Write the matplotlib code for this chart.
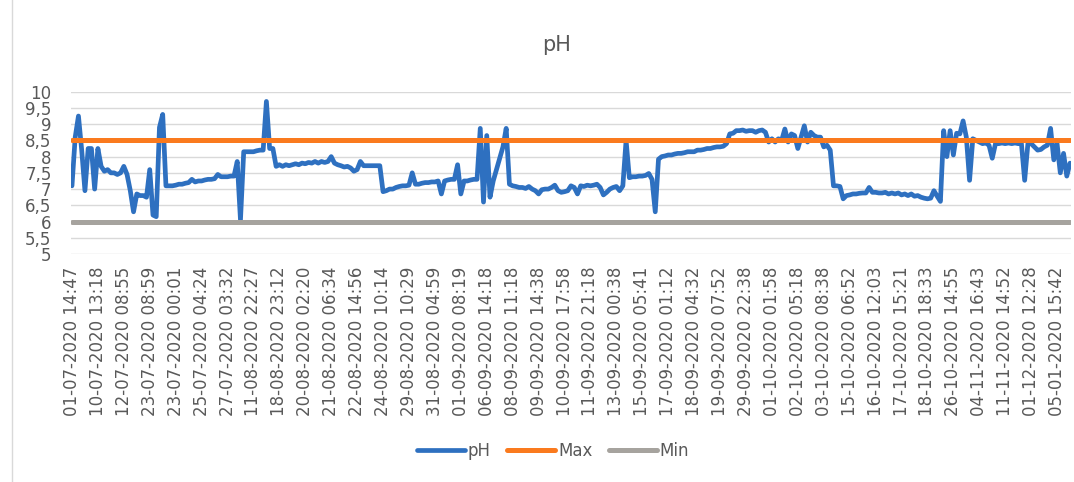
import matplotlib
matplotlib.use("Agg")
import matplotlib.pyplot as plt
import numpy as np

# pH readings, one every ~3 px along the category axis
ph = [
    7.1, 8.6, 9.25, 8.2, 6.95, 8.25, 8.25, 7.0, 8.25, 7.7,
    7.55, 7.6, 7.5, 7.5, 7.45, 7.5, 7.7, 7.45, 6.95, 6.3,
    6.85, 6.8, 6.8, 6.75, 7.6, 6.2, 6.15, 8.9, 9.3, 7.1,
    7.1, 7.1, 7.12, 7.15, 7.15, 7.18, 7.2, 7.3, 7.22, 7.25,
    7.25, 7.28, 7.3, 7.3, 7.32, 7.45, 7.38, 7.38, 7.38, 7.4,
    7.4, 7.85, 6.05, 8.15, 8.15, 8.15, 8.15, 8.18, 8.2, 8.2,
    9.7, 8.25, 8.25, 7.7, 7.75, 7.7, 7.75, 7.72, 7.75, 7.78,
    7.75, 7.8, 7.78, 7.82, 7.8, 7.85, 7.8, 7.85, 7.82, 7.85,
    8.0, 7.8, 7.75, 7.72, 7.68, 7.7, 7.65, 7.55, 7.6, 7.85,
    7.72, 7.72, 7.72, 7.72, 7.72, 7.72, 6.92, 6.95, 7.0, 7.0,
    7.05, 7.08, 7.1, 7.1, 7.12, 7.5, 7.15, 7.15, 7.18, 7.2,
    7.2, 7.22, 7.22, 7.25, 6.85, 7.25, 7.28, 7.3, 7.3, 7.75,
    6.85, 7.25, 7.25, 7.28, 7.3, 7.3, 8.87, 6.6, 8.65, 6.75,
    7.25, 7.6, 7.95, 8.3, 8.87, 7.15, 7.1, 7.08, 7.05, 7.05,
    7.02, 7.08, 7.0, 6.95, 6.85, 6.98, 7.0, 7.0, 7.05, 7.12,
    6.95, 6.9, 6.92, 6.95, 7.1, 7.05, 6.85, 7.1, 7.08, 7.12,
    7.1, 7.12, 7.15, 7.05, 6.82, 6.9, 7.0, 7.05, 7.08, 6.95,
    7.1, 8.5, 7.35, 7.38, 7.38, 7.4, 7.4, 7.42, 7.48, 7.3,
    6.3, 7.92, 8.0, 8.02, 8.05, 8.05, 8.08, 8.1, 8.1, 8.12,
    8.15, 8.15, 8.15, 8.2, 8.2, 8.22, 8.25, 8.25, 8.28, 8.3,
    8.3, 8.32, 8.4, 8.7, 8.72, 8.8, 8.8, 8.82, 8.78, 8.8,
    8.8, 8.75, 8.8, 8.82, 8.75, 8.45, 8.55, 8.45, 8.55, 8.5,
    8.85, 8.45, 8.7, 8.65, 8.25, 8.6, 8.95, 8.45, 8.75, 8.65,
    8.6, 8.6, 8.3, 8.35, 8.2, 7.1, 7.1, 7.08, 6.7, 6.8,
    6.82, 6.85, 6.85, 6.87, 6.88, 6.88, 7.05, 6.9, 6.9, 6.88,
    6.88, 6.9, 6.85, 6.88, 6.85, 6.88, 6.82, 6.85, 6.8, 6.85,
    6.78, 6.8, 6.75, 6.72, 6.7, 6.72, 6.95, 6.78, 6.62, 8.8,
    8.0, 8.8, 8.05, 8.72, 8.7, 9.1, 8.6, 7.27, 8.55, 8.5,
    8.45, 8.4, 8.42, 8.35, 7.95, 8.4, 8.4, 8.42, 8.4, 8.42,
    8.4, 8.42, 8.4, 8.4, 7.27, 8.4, 8.4, 8.3, 8.2, 8.22,
    8.3, 8.35, 8.87, 7.9, 8.4, 7.5, 8.1, 7.4, 7.8,
]
max_ph = 8.5
min_ph = 6.0

# one label every 8 readings
tick_labels = [
    "01-07-2020 14:47", "10-07-2020 13:18", "12-07-2020 08:55", "23-07-2020 08:59",
    "23-07-2020 00:01", "25-07-2020 04:24", "27-07-2020 03:32", "11-08-2020 22:27",
    "18-08-2020 23:12", "20-08-2020 02:20", "21-08-2020 06:34", "22-08-2020 14:56",
    "24-08-2020 10:14", "29-08-2020 10:29", "31-08-2020 04:59", "01-09-2020 08:19",
    "06-09-2020 14:18", "08-09-2020 11:18", "09-09-2020 14:38", "10-09-2020 17:58",
    "11-09-2020 21:18", "13-09-2020 00:38", "15-09-2020 05:41", "17-09-2020 01:12",
    "18-09-2020 04:32", "19-09-2020 07:52", "29-09-2020 22:38", "01-10-2020 01:58",
    "02-10-2020 05:18", "03-10-2020 08:38", "15-10-2020 06:52", "16-10-2020 12:03",
    "17-10-2020 15:21", "18-10-2020 18:33", "26-10-2020 14:55", "04-11-2020 16:43",
    "11-11-2020 14:52", "01-12-2020 12:28", "05-01-2020 15:42",
]
label_step = 8

grey_txt = "#595959"
n = len(ph)
x = np.arange(n)

fig = plt.figure(figsize=(10.74, 4.82), dpi=100)
ax = fig.add_axes([71 / 1074, 1 - 254 / 482, 1000 / 1074, (254 - 91.7) / 482])

ax.plot(x, ph, color="#2E70C0", lw=3.4, label="pH", solid_capstyle="round", solid_joinstyle="round")
ax.plot(x, [max_ph] * n, color="#FA7A1E", lw=3.6, label="Max", solid_capstyle="round")
ax.plot(x, [min_ph] * n, color="#A6A39E", lw=3.6, label="Min", solid_capstyle="round")

ax.set_xlim(-0.3, n - 1 + 0.3)
ax.set_ylim(5, 10)
yt = np.arange(5, 10.01, 0.5)
ax.set_yticks(yt)
ax.set_yticklabels([("%g" % v).replace(".", ",") for v in yt], fontsize=12, color=grey_txt)
ax.set_xticks(x[::label_step][: len(tick_labels)])
ax.set_xticklabels(tick_labels, rotation=90, fontsize=12, color=grey_txt)
ax.tick_params(axis="y", length=0, pad=14)
ax.tick_params(axis="x", length=0, pad=9)
ax.grid(axis="y", color="#D9D9D9", lw=1.0)
ax.set_axisbelow(True)
for s in ax.spines.values():
    s.set_visible(False)

fig.text(557 / 1074, 1 - 45 / 482, "pH", ha="center", va="center", fontsize=15, color=grey_txt)

leg = fig.legend(loc="center", bbox_to_anchor=(553 / 1074, 1 - 451 / 482), ncol=3,
                 frameon=False, fontsize=12, handlelength=2.9, handletextpad=0.15,
                 columnspacing=1.0, labelcolor=grey_txt)

# chart area border on the left
fig.add_artist(plt.Line2D([11.5 / 1074, 11.5 / 1074], [0, 1], color="#D9D9D9", lw=1.0))

fig.savefig("out.png", dpi=100)
